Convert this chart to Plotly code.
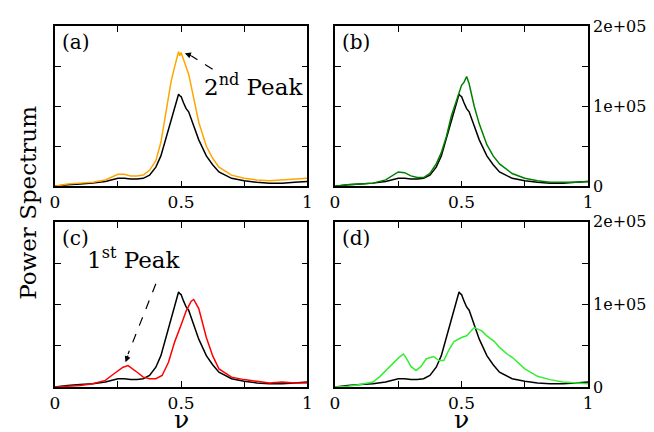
import plotly.graph_objects as go

# black reference curve (units of 1e3)
x_ref = [0,0.05,0.1,0.15,0.2,0.225,0.25,0.275,0.3,0.325,0.35,0.375,0.4,0.42,0.44,0.46,0.475,0.485,0.49,0.495,0.5,0.51,0.52,0.53,0.55,0.57,0.6,0.625,0.65,0.7,0.75,0.8,0.85,0.9,0.95,1]
y_ref = [0,2,3,4,6,8,10,10,9,9,10,14,24,38,60,85,100,112,115,113,112,104,97,93,75,58,38,27,18,10,7,5,4,4,5,6]

x_a = [0,0.05,0.1,0.15,0.2,0.225,0.25,0.275,0.3,0.325,0.35,0.375,0.4,0.42,0.44,0.46,0.475,0.485,0.49,0.495,0.5,0.51,0.52,0.53,0.55,0.57,0.6,0.625,0.65,0.7,0.75,0.8,0.85,0.9,0.95,1]
y_a = [0,3,4,5,8,11,15,15,13,13,14,20,32,55,90,130,150,163,168,163,167,158,150,140,110,80,50,35,24,14,10,8,7,8,9,10]

x_b = [0,0.05,0.1,0.15,0.2,0.225,0.25,0.275,0.3,0.325,0.35,0.375,0.4,0.42,0.44,0.46,0.48,0.49,0.5,0.51,0.52,0.53,0.55,0.57,0.6,0.625,0.65,0.7,0.75,0.8,0.85,0.9,0.95,1]
y_b = [0,2,3,4,8,13,18,17,13,11,11,16,28,42,62,88,108,118,126,130,137,128,100,78,52,38,28,16,10,7,5,5,5,6]

x_c = [0,0.05,0.1,0.15,0.2,0.225,0.25,0.27,0.29,0.31,0.33,0.35,0.375,0.4,0.425,0.45,0.475,0.5,0.52,0.54,0.55,0.57,0.6,0.625,0.65,0.7,0.75,0.8,0.85,0.9,0.95,1]
y_c = [0,1,2,4,8,14,20,24,26,22,17,12,10,10,14,30,55,75,92,104,106,95,60,38,22,12,9,7,5,6,5,5]

x_d = [0,0.05,0.1,0.15,0.175,0.2,0.225,0.25,0.27,0.28,0.3,0.32,0.34,0.36,0.38,0.39,0.41,0.43,0.45,0.47,0.5,0.52,0.55,0.58,0.6,0.63,0.65,0.68,0.7,0.75,0.8,0.85,0.9,0.95,1]
y_d = [0,1,3,6,12,20,28,35,40,36,25,20,25,34,36,37,32,32,45,55,60,62,72,68,62,55,48,40,36,22,13,9,6,5,4]

y_tickvals = [0, 50000, 100000, 150000, 200000]
y_labels = ["0", "", "1e+05", "", "2e+05"]
x_tickvals = [0, 0.25, 0.5, 0.75, 1]
x_labels = ["0", "", "0.5", "", "1"]

panels = [
    ("(a)", x_a, y_a, "#ffa500", 1, 1),
    ("(b)", x_b, y_b, "#008000", 1, 2),
    ("(c)", x_c, y_c, "#ff0000", 2, 1),
    ("(d)", x_d, y_d, "#33ee33", 2, 2),
]

xdom = {1: [0.065, 0.457], 2: [0.500, 0.893]}
ydom = {1: [0.590, 0.978], 2: [0.104, 0.504]}
font = "DejaVu Serif"

fig = go.Figure()
annotations = []
shapes = []
for i, (lab, xs, ys, col, r, c) in enumerate(panels):
    n = "" if i == 0 else str(i + 1)
    xa, ya = "x" + n, "y" + n
    fig.add_trace(go.Scatter(x=x_ref, y=[v * 1000 for v in y_ref], mode="lines",
                             line=dict(color="black", width=1.5), xaxis=xa, yaxis=ya, showlegend=False))
    fig.add_trace(go.Scatter(x=xs, y=[v * 1000 for v in ys], mode="lines",
                             line=dict(color=col, width=1.5), xaxis=xa, yaxis=ya, showlegend=False))
    common = dict(showline=True, mirror="ticks", linecolor="black", linewidth=1.5,
                  ticks="inside", ticklen=6, tickcolor="black", showgrid=False, zeroline=False)
    fig.layout["xaxis" + n] = dict(common, domain=xdom[c], range=[0, 1], anchor=ya,
                                   tickvals=x_tickvals, ticktext=x_labels, ticklabelstandoff=0,
                                   tickfont=dict(family=font, size=17, color="black"))
    fig.layout["yaxis" + n] = dict(common, domain=ydom[r], range=[0, 200000], anchor=xa,
                                   tickvals=y_tickvals,
                                   ticktext=(y_labels if c == 2 else [""] * 5),
                                   side="right" if c == 2 else "left",
                                   tickfont=dict(family=font, size=16, color="black"))
    annotations.append(dict(text=lab, x=0.02, y=0.985, xref=xa + " domain", yref=ya + " domain",
                            xanchor="left", yanchor="top", showarrow=False,
                            font=dict(family=font, size=20, color="black")))
    if r == 2:
        annotations.append(dict(text="ν", x=0.5, y=-0.014, xref=xa + " domain", yref="paper",
                                xanchor="center", yanchor="bottom", showarrow=False,
                                font=dict(family=font, size=25, color="black")))

# 2nd peak annotation (panel a)
annotations.append(dict(text="2<sup>nd</sup> Peak", x=0.99, y=0.63, xref="x domain", yref="y domain",
                        xanchor="right", yanchor="middle", showarrow=False,
                        font=dict(family=font, size=23, color="black")))
shapes.append(dict(type="line", xref="x", yref="y", x0=0.625, y0=146000, x1=0.54, y1=163000,
                   line=dict(color="black", width=1.2, dash="dash")))
annotations.append(dict(x=0.515, y=166000, ax=0.545, ay=162500, xref="x", yref="y", axref="x", ayref="y",
                        text="", showarrow=True, arrowhead=2, arrowsize=1, arrowwidth=1.2, arrowcolor="black"))
# 1st peak annotation (panel c)
annotations.append(dict(text="1<sup>st</sup> Peak", x=0.12, y=0.78, xref="x3 domain", yref="y3 domain",
                        xanchor="left", yanchor="middle", showarrow=False,
                        font=dict(family=font, size=23, color="black")))
shapes.append(dict(type="line", xref="x3", yref="y3", x0=0.4, y0=125000, x1=0.29, y1=40000,
                   line=dict(color="black", width=1.2, dash="dash")))
annotations.append(dict(x=0.28, y=30000, ax=0.292, ay=40000, xref="x3", yref="y3", axref="x3", ayref="y3",
                        text="", showarrow=True, arrowhead=2, arrowsize=1, arrowwidth=1.2, arrowcolor="black"))

annotations.append(dict(text="Power Spectrum", x=0.0, y=0.55, xref="paper", yref="paper", textangle=-90,
                        showarrow=False, xanchor="left", yanchor="middle",
                        font=dict(family=font, size=23, color="black")))

fig.update_layout(width=654, height=432, margin=dict(l=0, r=0, t=0, b=0),
                  plot_bgcolor="white", paper_bgcolor="white",
                  annotations=annotations, shapes=shapes)
fig.write_html("out.html")
